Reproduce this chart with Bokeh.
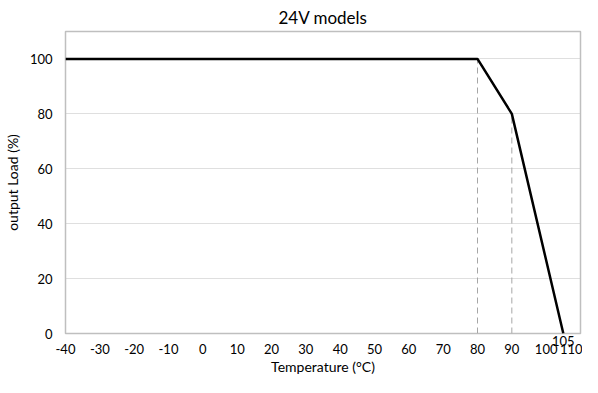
from bokeh.plotting import figure
from bokeh.models import FixedTicker, LinearAxis, Range1d
from bokeh.embed import file_html
from bokeh.resources import INLINE

temp = [-40, 80, 90, 105]
load = [100, 100, 80, 0]
x_ticks = list(range(-40, 111, 10))
y_ticks = [0, 20, 40, 60, 80, 100]
guide_x = [80, 90]
guide_top = [100, 80]
end_temp = [105]

FONT = "Lato"

p = figure(width=582, height=377, output_backend="svg", toolbar_location=None,
           x_range=Range1d(-40, 110), y_range=Range1d(0, 110),
           min_border_left=0, min_border_right=2, min_border_top=0, min_border_bottom=0)

p.title.text = "24V models"
p.title.align = "center"
p.title.text_font = FONT
p.title.text_font_size = "17px"
p.title.text_font_style = "normal"
p.title.text_color = "#000000"
p.title.standoff = 8

p.outline_line_color = "#BFBFBF"
p.outline_line_width = 1.5

main_x = p.xaxis[0]
ax105 = LinearAxis(ticker=FixedTicker(ticks=end_temp),
                   major_label_overrides={t: str(t) for t in end_temp})
p.below = [ax105, main_x]

for ax in (main_x, p.yaxis[0], ax105):
    ax.axis_line_color = None
    ax.major_tick_line_color = None
    ax.minor_tick_line_color = None
    ax.major_tick_out = 0
    ax.major_tick_in = 0
    ax.minor_tick_out = 0
    ax.minor_tick_in = 0
    ax.major_label_text_font = FONT
    ax.major_label_text_font_size = "13px"
    ax.major_label_text_color = "#000000"
    ax.axis_label_text_font = FONT
    ax.axis_label_text_font_size = "14px"
    ax.axis_label_text_font_style = "normal"
    ax.axis_label_text_color = "#000000"

ax105.axis_label_standoff = 0
main_x.ticker = FixedTicker(ticks=x_ticks)
main_x.major_label_overrides = {t: str(t) for t in x_ticks}
p.yaxis.ticker = FixedTicker(ticks=y_ticks)
p.yaxis.major_label_overrides = {t: str(t) for t in y_ticks}
main_x.axis_label = "Temperature (°C)"
p.yaxis.axis_label = "output Load (%)"
ax105.major_label_standoff = 2
main_x.major_label_standoff = -5
main_x.axis_label_standoff = 1
p.yaxis.major_label_standoff = 13
p.yaxis.axis_label_standoff = 6

p.xgrid.grid_line_color = None
p.ygrid.grid_line_color = "#BFBFBF"
p.ygrid.grid_line_dash = "1 1"
p.ygrid.grid_line_width = 1

for gx, gt in zip(guide_x, guide_top):
    p.line([gx, gx], [0, gt], line_color="#A6A6A6", line_dash="6 4", line_width=1)

p.line(temp, load, line_color="#000000", line_width=2.5)

open("out.html", "w").write(file_html(p, INLINE))
